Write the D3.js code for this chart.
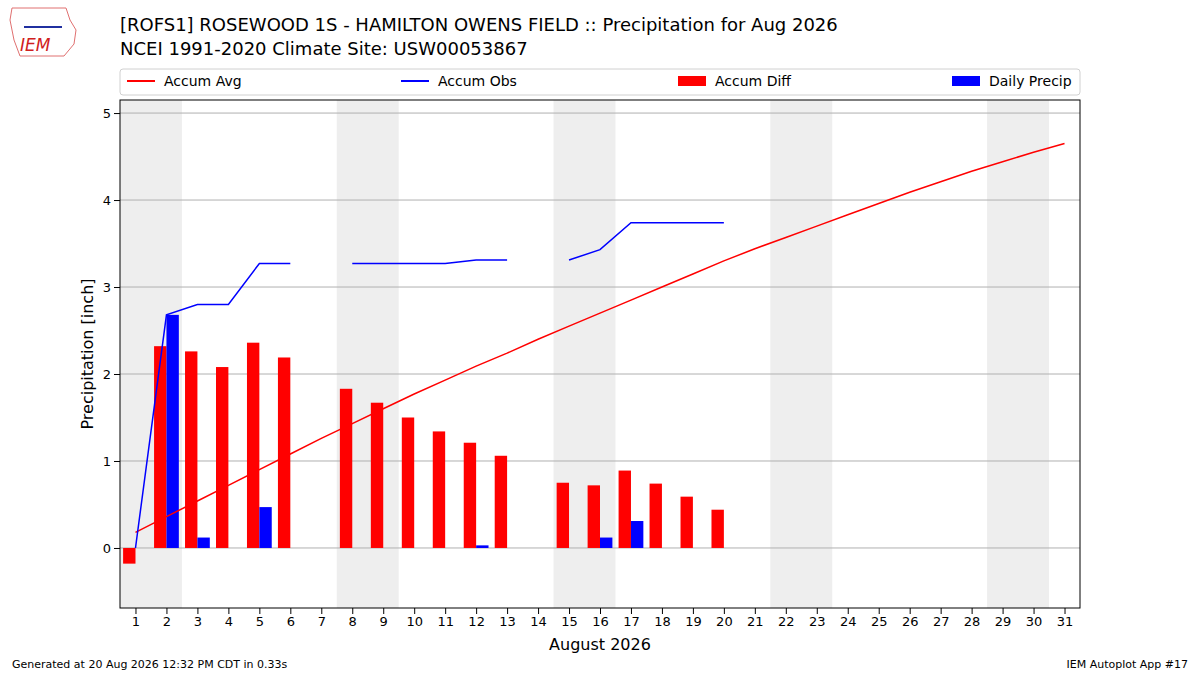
<!DOCTYPE html>
<html><head><meta charset="utf-8">
<script src="https://cdn.jsdelivr.net/npm/d3@7"></script>
<style>body{margin:0;background:#fff}text{font-family:"DejaVu Sans",sans-serif}</style>
</head><body><svg id="c"></svg>
<script>
const days = d3.range(1, 32);
const accumAvg = [0.18,0.36,0.54,0.72,0.90,1.08,1.26,1.43,1.60,1.77,1.93,2.09,2.24,2.40,2.55,2.70,2.85,3.00,3.15,3.30,3.44,3.57,3.70,3.83,3.96,4.09,4.21,4.33,4.44,4.55,4.65];
const accumObs = [0,2.68,2.80,2.80,3.27,3.27,null,3.27,3.27,3.27,3.27,3.31,3.31,null,3.31,3.43,3.74,3.74,3.74,3.74];
const accumDiff = [-0.18,2.32,2.26,2.08,2.36,2.19,null,1.83,1.67,1.50,1.34,1.21,1.06,null,0.75,0.72,0.89,0.74,0.59,0.44];
const dailyPrecip = [0,2.68,0.12,0,0.47,0,0,0,0,0,0,0.03,0,0,0,0.12,0.31,0,0,0];
const weekends = [1,8,15,22,29];
const yTicks = [0,1,2,3,4,5];

const width = 1200, height = 675;
const svg = d3.select("#c").attr("width", width).attr("height", height);
const x = d3.scaleLinear().domain([0.5, 31.5]).range([120, 1080]);
const y = d3.scaleLinear().domain([-0.69, 5.15]).range([608, 100]);

// weekend shading
svg.selectAll(".wk").data(weekends).enter().append("rect")
   .attr("x", d => x(d - 0.5)).attr("width", x(2) - x(0))
   .attr("y", 100).attr("height", 508).attr("fill", "#eeeeee");

// grid
svg.selectAll(".grid").data(yTicks).enter().append("line")
   .attr("x1", 120).attr("x2", 1080).attr("y1", d => y(d)).attr("y2", d => y(d))
   .attr("stroke", "#b0b0b0").attr("stroke-width", 1);

const bw = x(0.4) - x(0);
svg.selectAll(".diff").data(accumDiff.map((v, i) => [i + 1, v]).filter(d => d[1] !== null)).enter().append("rect")
   .attr("x", d => x(d[0] - 0.4)).attr("width", bw)
   .attr("y", d => y(Math.max(0, d[1]))).attr("height", d => Math.abs(y(d[1]) - y(0)))
   .attr("fill", "red");
svg.selectAll(".daily").data(dailyPrecip.map((v, i) => [i + 1, v]).filter(d => d[1] > 0)).enter().append("rect")
   .attr("x", d => x(d[0])).attr("width", bw)
   .attr("y", d => y(d[1])).attr("height", d => y(0) - y(d[1]))
   .attr("fill", "blue");

const line = d3.line().defined(d => d[1] !== null).x(d => x(d[0])).y(d => y(d[1]));
svg.append("path").datum(accumAvg.map((v, i) => [i + 1, v])).attr("d", line)
   .attr("fill", "none").attr("stroke", "red").attr("stroke-width", 1.5);
svg.append("path").datum(accumObs.map((v, i) => [i + 1, v])).attr("d", line)
   .attr("fill", "none").attr("stroke", "blue").attr("stroke-width", 1.5);

// axes
const xa = svg.append("g").attr("transform", "translate(0,608)")
   .call(d3.axisBottom(x).tickValues(days).tickFormat(d3.format("d")).tickSizeOuter(0));
const ya = svg.append("g").attr("transform", "translate(120,0)")
   .call(d3.axisLeft(y).tickValues(yTicks).tickFormat(d3.format("d")).tickSizeOuter(0));
[xa, ya].forEach(a => { a.selectAll("text").attr("font-size", 13).attr("fill", "#000"); a.select(".domain").remove(); });
svg.append("rect").attr("x", 120).attr("y", 100).attr("width", 960).attr("height", 508)
   .attr("fill", "none").attr("stroke", "#000");

svg.append("text").attr("x", 600).attr("y", 650).attr("text-anchor", "middle").attr("font-size", 16).text("August 2026");
svg.append("text").attr("transform", "translate(93,354) rotate(-90)").attr("text-anchor", "middle")
   .attr("font-size", 16).text("Precipitation [inch]");

// titles
svg.append("text").attr("x", 120).attr("y", 31).attr("font-size", 18).text("[ROFS1] ROSEWOOD 1S - HAMILTON OWENS FIELD :: Precipitation for Aug 2026");
svg.append("text").attr("x", 120).attr("y", 55).attr("font-size", 18).text("NCEI 1991-2020 Climate Site: USW00053867");

// legend
const lg = svg.append("g");
lg.append("rect").attr("x", 120).attr("y", 69).attr("width", 960).attr("height", 26).attr("rx", 3)
  .attr("fill", "#fff").attr("stroke", "#d0d0d0");
const items = [["Accum Avg", "red", "line", 127], ["Accum Obs", "blue", "line", 401], ["Accum Diff", "red", "rect", 678], ["Daily Precip", "blue", "rect", 952]];
items.forEach(([t, c, k, lx]) => {
  if (k === "line") lg.append("line").attr("x1", lx).attr("x2", lx + 28).attr("y1", 81).attr("y2", 81).attr("stroke", c).attr("stroke-width", 2);
  else lg.append("rect").attr("x", lx).attr("y", 76).attr("width", 28).attr("height", 10).attr("fill", c);
  lg.append("text").attr("x", lx + 37).attr("y", 86).attr("font-size", 14).text(t);
});

// logo approximation
svg.append("path").attr("d", "M12,8 L66,8 L70,20 L76,30 L74,44 L64,56 L20,56 L14,40 L10,20 Z")
   .attr("fill", "#fff").attr("stroke", "#e07070");
svg.append("text").attr("x", 20).attr("y", 51).attr("font-size", 17).attr("font-style", "italic")
   .attr("font-family", "Liberation Serif").attr("fill", "#d02020").text("IEM");
svg.append("line").attr("x1", 24).attr("x2", 62).attr("y1", 27).attr("y2", 27).attr("stroke", "#2030a0").attr("stroke-width", 2);

svg.append("text").attr("x", 12).attr("y", 668).attr("font-size", 11).text("Generated at 20 Aug 2026 12:32 PM CDT in 0.33s");
svg.append("text").attr("x", 1188).attr("y", 668).attr("text-anchor", "end").attr("font-size", 11).text("IEM Autoplot App #17");
</script></body></html>
